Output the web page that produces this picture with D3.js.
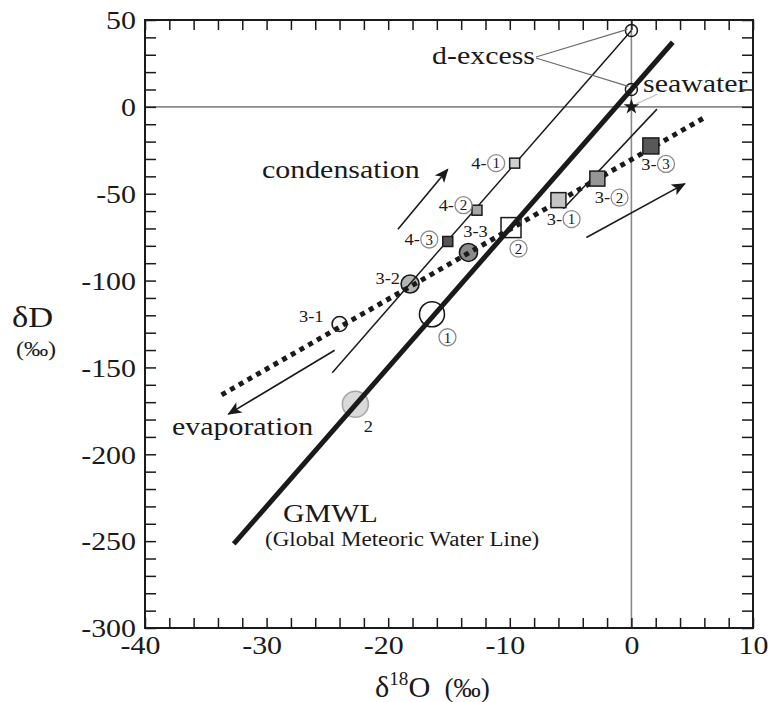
<!DOCTYPE html>
<html>
<head>
<meta charset="utf-8">
<script src="https://cdn.jsdelivr.net/npm/d3@7"></script>
<style>
  html, body { margin: 0; padding: 0; background: #fff; }
  svg text { font-family: "Liberation Serif", "Times New Roman", serif; fill: #1a1a1a; }
</style>
</head>
<body>
<svg id="chart" width="770" height="702"></svg>
<script>
// ---- data: δ18O (‰) and δD (‰) ----
const xTickLabels = [-40, -30, -20, -10, 0, 10];
const yTickLabels = [50, 0, -50, -100, -150, -200, -250, -300];

// circular samples
const circleNames = ["3-1", "3-2", "3-3", "1", "2"];
const circleD18O  = [-24.0, -18.2, -13.4, -16.4, -22.7];
const circleDD    = [-125.0, -102.0, -83.8, -119.4, -171.2];

// square samples
const squareNames = ["4-1", "4-2", "4-3", "3-1", "3-2", "3-3", "2"];
const squareD18O  = [-9.6, -12.7, -15.1, -6.0, -2.8, 1.6, -9.9];
const squareDD    = [-32.4, -59.5, -77.5, -53.7, -41.3, -22.5, -69.5];

// seawater and the two d-excess intercepts
const seawater = [0, 0];
const dExcessPoints = [[0, 44], [0, 10]];

// reference lines (end points)
const gmwlLine        = [[-32.7, -251.6], [3.4, 37.2]];
const condensLine     = [[-24.6, -153.0], [0, 44]];
const enrichLine      = [[-5.6, -58.7], [2.1, -1.3]];
const evaporationLine = [[-33.7, -165.8], [6.1, -5.8]];

// process arrows (start, end)
const condensArrow = [[-19.2, -70.4], [-15.1, -35.9]];
const evapArrow    = [[-24.4, -140.1], [-33.15, -176.9]];
const enrichArrow  = [[-3.7, -75.2], [4.4, -44.2]];

// ---- layout ----
const svg = d3.select("#chart");
const x = d3.scaleLinear().domain([-40, 10]).range([145, 753]);
const y = d3.scaleLinear().domain([-300, 50]).range([628, 20]);
const INK = "#1a1a1a";
const WIDEN = 1.15;

const defs = svg.append("defs");
defs.append("marker")
  .attr("id", "head").attr("viewBox", "0 0 14 12")
  .attr("refX", 13).attr("refY", 6)
  .attr("markerWidth", 15).attr("markerHeight", 12)
  .attr("markerUnits", "userSpaceOnUse").attr("orient", "auto")
  .append("path").attr("d", "M0,0 L14,6 L0,12 L3.5,6 Z").attr("fill", INK);

// zero reference lines
svg.append("line").attr("x1", x(-40)).attr("x2", x(10)).attr("y1", y(0)).attr("y2", y(0))
  .attr("stroke", "#8a8a8a").attr("stroke-width", 1.6);
svg.append("line").attr("x1", x(0)).attr("x2", x(0)).attr("y1", y(-300)).attr("y2", y(50))
  .attr("stroke", "#8a8a8a").attr("stroke-width", 1.6);

// axes with inward ticks on all four sides
const xMinor = d3.range(-40, 10.1, 2);
const yMinor = d3.range(-300, 50.1, 10);
const fmtX = d => xTickLabels.includes(d) ? String(d) : "";
const fmtY = d => yTickLabels.includes(d) ? String(d) : "";

const gBottom = svg.append("g").attr("transform", `translate(0,${y(-300)})`)
  .call(d3.axisBottom(x).tickValues(xMinor).tickFormat(fmtX).tickSize(-10).tickSizeOuter(0).tickPadding(8));
const gTop = svg.append("g").attr("transform", `translate(0,${y(50)})`)
  .call(d3.axisTop(x).tickValues(xMinor).tickFormat("").tickSize(-10).tickSizeOuter(0));
const gLeft = svg.append("g").attr("transform", `translate(${x(-40)},0)`)
  .call(d3.axisLeft(y).tickValues(yMinor).tickFormat(fmtY).tickSize(-11).tickSizeOuter(0).tickPadding(9));
const gRight = svg.append("g").attr("transform", `translate(${x(10)},0)`)
  .call(d3.axisRight(y).tickValues(yMinor).tickFormat("").tickSize(-11).tickSizeOuter(0));

[gBottom, gTop, gLeft, gRight].forEach(g => {
  g.select(".domain").remove();
  g.selectAll(".tick line").attr("stroke", INK).attr("stroke-width", 1.5);
  g.selectAll("text").attr("font-size", 26).attr("font-family", "Liberation Serif").attr("fill", INK).classed("wide", true);
});
// negative x labels: keep the digits centred on the tick
gBottom.selectAll(".tick text").attr("dx", d => d < 0 ? -5 : 0);
gLeft.selectAll(".tick text").attr("dy", "0.34em");

svg.append("rect").attr("x", x(-40)).attr("y", y(50))
  .attr("width", x(10) - x(-40)).attr("height", y(-300) - y(50))
  .attr("fill", "none").attr("stroke", INK).attr("stroke-width", 2);

// ---- circle samples (drawn under the lines) ----
const circleStyle = {
  "3-1": { r: 7.5, fill: "#f4f4f4", stroke: INK },
  "3-2": { r: 9,   fill: "#b4b4b4", stroke: INK },
  "3-3": { r: 9,   fill: "#8a8a8a", stroke: INK },
  "1":   { r: 12.5, fill: "#ffffff", stroke: INK },
  "2":   { r: 13,  fill: "#d9d9d9", stroke: "#a8a8a8" }
};
const circles = circleNames.map((n, i) => ({ name: n, x: circleD18O[i], y: circleDD[i] }));
svg.append("g").selectAll("circle").data(circles).join("circle")
  .attr("cx", d => x(d.x)).attr("cy", d => y(d.y))
  .attr("r", d => circleStyle[d.name].r)
  .attr("fill", d => circleStyle[d.name].fill)
  .attr("stroke", d => circleStyle[d.name].stroke).attr("stroke-width", 1.6);

// ---- lines ----
const line = d3.line().x(d => x(d[0])).y(d => y(d[1]));
svg.append("path").attr("d", line(gmwlLine)).attr("stroke", INK).attr("stroke-width", 5).attr("fill", "none");
svg.append("path").attr("d", line(condensLine)).attr("stroke", INK).attr("stroke-width", 1.5).attr("fill", "none");
svg.append("path").attr("d", line(enrichLine)).attr("stroke", INK).attr("stroke-width", 1.5).attr("fill", "none");
svg.append("path").attr("d", line(evaporationLine)).attr("stroke", INK).attr("stroke-width", 5)
  .attr("stroke-dasharray", "5,5").attr("fill", "none");

// ---- square samples ----
const squareStyle = {
  "4-1": { s: 10, fill: "#cfcfcf" },
  "4-2": { s: 10, fill: "#a6a6a6" },
  "4-3": { s: 10, fill: "#555555" },
  "3-1": { s: 15, fill: "#c4c4c4" },
  "3-2": { s: 15, fill: "#969696" },
  "3-3": { s: 16, fill: "#585858" },
  "2":   { s: 20, fill: "none" }
};
const squares = squareNames.map((n, i) => ({ name: n, x: squareD18O[i], y: squareDD[i] }));
svg.append("g").selectAll("rect").data(squares).join("rect")
  .attr("x", d => x(d.x) - squareStyle[d.name].s / 2)
  .attr("y", d => y(d.y) - squareStyle[d.name].s / 2)
  .attr("width", d => squareStyle[d.name].s).attr("height", d => squareStyle[d.name].s)
  .attr("fill", d => squareStyle[d.name].fill)
  .attr("stroke", INK).attr("stroke-width", 1.5);

// d-excess intercepts and seawater
svg.append("g").selectAll("circle").data(dExcessPoints).join("circle")
  .attr("cx", d => x(d[0])).attr("cy", d => y(d[1])).attr("r", 6)
  .attr("fill", "none").attr("stroke", INK).attr("stroke-width", 1.5);
svg.append("path").attr("d", d3.symbol(d3.symbolStar, 75)())
  .attr("transform", `translate(${x(seawater[0])},${y(seawater[1])})`).attr("fill", INK);

// ---- arrows ----
[condensArrow, evapArrow, enrichArrow].forEach(a => {
  svg.append("line")
    .attr("x1", x(a[0][0])).attr("y1", y(a[0][1]))
    .attr("x2", x(a[1][0])).attr("y2", y(a[1][1]))
    .attr("stroke", INK).attr("stroke-width", 1.6).attr("marker-end", "url(#head)");
});

// ---- annotations ----
function text(tx, ty, str, size, anchor) {
  return svg.append("text").attr("x", tx).attr("y", ty).attr("font-size", size)
    .attr("text-anchor", anchor || "start").classed("wide", true).text(str);
}

// d-excess leaders
svg.append("line").attr("x1", 536).attr("y1", 57).attr("x2", x(dExcessPoints[0][0]) - 4).attr("y2", y(dExcessPoints[0][1]) - 1)
  .attr("stroke", "#6e6e6e").attr("stroke-width", 1.3);
svg.append("line").attr("x1", 536).attr("y1", 58).attr("x2", x(dExcessPoints[1][0]) - 3).attr("y2", y(dExcessPoints[1][1]) - 3)
  .attr("stroke", "#6e6e6e").attr("stroke-width", 1.3);
svg.append("line").attr("x1", x(seawater[0]) + 5).attr("y1", y(seawater[1]) - 3).attr("x2", 658).attr("y2", 94)
  .attr("stroke", "#c4c4c4").attr("stroke-width", 1.2);

text(432, 64, "d-excess", 26);
text(643, 92, "seawater", 26);
text(262, 178, "condensation", 26);
text(172, 435, "evaporation", 26);
text(283, 522, "GMWL", 26);
text(265, 546, "(Global Meteoric Water Line)", 20);

// circled-number sample labels
function circled(cx, cy, prefix, num, anchor) {
  const fs = 16, r = 8.5;
  const g = svg.append("g");
  let w = 0;
  let t = null;
  if (prefix) {
    t = g.append("text").attr("y", cy).attr("dy", "0.35em").attr("font-size", fs).text(prefix);
    w = t.node().getComputedTextLength() * WIDEN;
    t.attr("textLength", w).attr("lengthAdjust", "spacingAndGlyphs");
  }
  const total = w + 2 * r + 1;
  const x0 = anchor === "end" ? cx - total : anchor === "middle" ? cx - total / 2 : cx;
  if (t) t.attr("x", x0);
  const ccx = x0 + w + 1 + r;
  g.append("circle").attr("cx", ccx).attr("cy", cy).attr("r", r)
    .attr("fill", "#fff").attr("stroke", "#8c8c8c").attr("stroke-width", 1.3);
  g.append("text").attr("x", ccx).attr("y", cy).attr("dy", "0.35em").attr("font-size", 15)
    .attr("text-anchor", "middle").text(num);
}
const sq = name => squares.find(s => s.name === name);
const ci = name => circles.find(c => c.name === name);
circled(x(sq("4-1").x) - 10, y(sq("4-1").y), "4-", "1", "end");
circled(x(sq("4-2").x) - 5,  y(sq("4-2").y) - 5, "4-", "2", "end");
circled(x(sq("4-3").x) - 10, y(sq("4-3").y) - 2, "4-", "3", "end");
circled(x(sq("3-1").x) + 5,  y(sq("3-1").y) + 19, "3-", "1", "middle");
circled(x(sq("3-2").x) + 14, y(sq("3-2").y) + 19, "3-", "2", "middle");
circled(x(sq("3-3").x) + 7,  y(sq("3-3").y) + 18, "3-", "3", "middle");
circled(x(sq("2").x) + 7,    y(sq("2").y) + 21, "", "2", "middle");
circled(x(ci("1").x) + 15,   y(ci("1").y) + 23, "", "1", "middle");

text(x(ci("3-1").x) - 16, y(ci("3-1").y) - 2, "3-1", 16, "end");
text(x(ci("3-2").x) - 10, y(ci("3-2").y), "3-2", 16, "end");
text(x(ci("3-3").x) + 7,  y(ci("3-3").y) - 15, "3-3", 16, "middle");
text(x(ci("2").x) + 13,   y(ci("2").y) + 28, "2", 16, "middle");

// axis titles
const xt = svg.append("text").attr("x", 375).attr("y", 697).attr("font-size", 30).classed("wide", true);
xt.append("tspan").text("δ");
xt.append("tspan").attr("font-size", 19).attr("dy", -12).text("18");
xt.append("tspan").attr("dy", 12).text("O");
xt.append("tspan").attr("font-size", 27).attr("dx", 14).text("(‰)");

text(12, 327, "δD", 30);
text(36, 356, "(‰)", 21, "middle");

// widen the serif glyphs horizontally
svg.selectAll("text.wide").each(function () {
  const w = this.getComputedTextLength();
  if (w > 0) {
    this.setAttribute("textLength", w * WIDEN);
    this.setAttribute("lengthAdjust", "spacingAndGlyphs");
  }
});
</script>
</body>
</html>
